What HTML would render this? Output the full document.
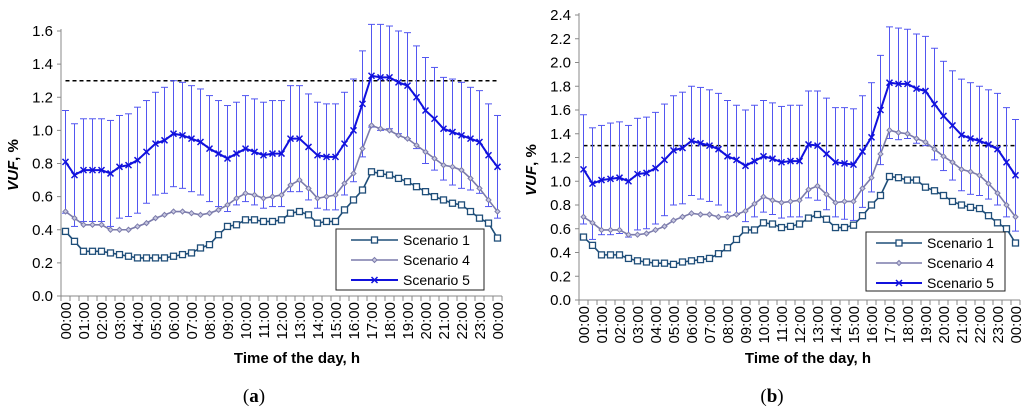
<!DOCTYPE html>
<html><head><meta charset="utf-8">
<style>
html,body{margin:0;padding:0;background:#fff;}
svg{display:block;font-family:"Liberation Sans",sans-serif;}
</style></head>
<body>
<svg id="svg" width="1024" height="412" viewBox="0 0 1024 412" xmlns="http://www.w3.org/2000/svg"></svg>
<script>
const hours = ["00:00","01:00","02:00","03:00","04:00","05:00","06:00","07:00","08:00","09:00","10:00","11:00","12:00","13:00","14:00","15:00","16:00","17:00","18:00","19:00","20:00","21:00","22:00","23:00","00:00"];
const seriesNames = ["Scenario 1","Scenario 4","Scenario 5"];
const limitValue = 1.3;
const yTicksA = ["0.0","0.2","0.4","0.6","0.8","1.0","1.2","1.4","1.6"];
const yTicksB = ["0.0","0.2","0.4","0.6","0.8","1.0","1.2","1.4","1.6","1.8","2.0","2.2","2.4"];
const a_s1 = [0.39,0.33,0.27,0.27,0.27,0.26,0.25,0.24,0.23,0.23,0.23,0.23,0.24,0.25,0.26,0.29,0.31,0.37,0.42,0.43,0.46,0.46,0.45,0.45,0.46,0.50,0.51,0.49,0.44,0.45,0.45,0.52,0.58,0.64,0.75,0.74,0.73,0.71,0.69,0.66,0.63,0.60,0.58,0.56,0.55,0.51,0.47,0.44,0.35];
const a_s4 = [0.51,0.47,0.43,0.43,0.43,0.40,0.40,0.40,0.42,0.44,0.47,0.49,0.51,0.51,0.50,0.49,0.50,0.52,0.55,0.59,0.62,0.61,0.59,0.60,0.61,0.67,0.70,0.65,0.59,0.60,0.61,0.68,0.74,0.89,1.03,1.01,1.00,0.97,0.95,0.91,0.87,0.83,0.79,0.78,0.76,0.71,0.65,0.58,0.51];
const a_s5 = [0.81,0.73,0.76,0.76,0.76,0.74,0.78,0.79,0.82,0.87,0.92,0.94,0.98,0.97,0.95,0.93,0.89,0.86,0.83,0.86,0.89,0.87,0.85,0.86,0.86,0.95,0.95,0.90,0.85,0.84,0.84,0.92,1.00,1.16,1.33,1.32,1.32,1.29,1.27,1.20,1.12,1.07,1.01,0.99,0.97,0.95,0.93,0.85,0.78];
const a_s5_upper = [1.12,1.04,1.07,1.07,1.07,1.06,1.09,1.10,1.14,1.18,1.23,1.26,1.30,1.29,1.27,1.25,1.21,1.18,1.15,1.17,1.21,1.19,1.17,1.18,1.18,1.27,1.27,1.22,1.17,1.16,1.16,1.23,1.31,1.48,1.64,1.64,1.63,1.60,1.59,1.51,1.44,1.38,1.32,1.31,1.29,1.26,1.24,1.16,1.09];
const b_s1 = [0.53,0.46,0.38,0.38,0.38,0.35,0.33,0.32,0.31,0.31,0.30,0.32,0.33,0.34,0.35,0.39,0.44,0.51,0.59,0.59,0.65,0.64,0.61,0.62,0.64,0.69,0.72,0.68,0.61,0.61,0.63,0.71,0.80,0.88,1.04,1.03,1.01,1.01,0.95,0.92,0.88,0.83,0.80,0.78,0.77,0.71,0.65,0.60,0.48];
const b_s4 = [0.70,0.65,0.59,0.59,0.59,0.55,0.55,0.56,0.59,0.62,0.67,0.70,0.73,0.72,0.72,0.70,0.70,0.72,0.75,0.81,0.87,0.84,0.82,0.83,0.84,0.93,0.96,0.89,0.82,0.83,0.83,0.94,1.03,1.23,1.43,1.41,1.40,1.36,1.33,1.27,1.21,1.16,1.10,1.08,1.05,0.98,0.90,0.80,0.70];
const b_s5 = [1.10,0.98,1.01,1.02,1.03,1.00,1.06,1.07,1.11,1.18,1.26,1.28,1.34,1.32,1.30,1.27,1.21,1.18,1.13,1.17,1.21,1.19,1.16,1.17,1.17,1.31,1.30,1.23,1.16,1.15,1.14,1.25,1.37,1.60,1.83,1.82,1.82,1.78,1.76,1.65,1.55,1.47,1.39,1.36,1.34,1.31,1.27,1.16,1.05];
const b_s5_upper = [1.56,1.45,1.47,1.49,1.50,1.47,1.53,1.54,1.58,1.65,1.72,1.75,1.80,1.79,1.77,1.74,1.68,1.64,1.60,1.64,1.68,1.66,1.63,1.64,1.64,1.76,1.76,1.70,1.62,1.62,1.61,1.72,1.83,2.06,2.30,2.29,2.28,2.24,2.22,2.12,2.01,1.93,1.86,1.83,1.80,1.77,1.74,1.62,1.52];

const NS="http://www.w3.org/2000/svg";
const svg=document.getElementById('svg');
function mk(tag,attrs,parent){const e=document.createElementNS(NS,tag);for(const k in attrs)e.setAttribute(k,attrs[k]);(parent||svg).appendChild(e);return e;}

function chart(cfg){
  const g=mk('g',{});
  
  
  const n=cfg.s1.length;
  const step=9;
  const x=i=>cfg.x0+step/2+i*step;
  const y=v=>cfg.y0-(v/cfg.ymax)*(cfg.y0-cfg.ytop);
  const xEnd=cfg.x0+n*step;
  const ya=mk('line',{x1:cfg.x0,y1:cfg.ytop-2,x2:cfg.x0,y2:cfg.y0,stroke:'#888','stroke-width':1},g);
  
  
  cfg.yTicks.forEach(t=>{
    const v=parseFloat(t);
    mk('line',{x1:cfg.x0-4,y1:y(v),x2:cfg.x0,y2:y(v),stroke:'#888'},g);
    const tx=mk('text',{x:cfg.x0-8,y:y(v)+5,'text-anchor':'end','font-size':15,fill:'#000'},g);
    tx.textContent=t;
    
    
  });
  const xa=mk('line',{x1:cfg.x0,y1:cfg.y0,x2:xEnd,y2:cfg.y0,stroke:'#888'},g);
  
  
  for(let i=0;i<=n;i++){mk('line',{x1:cfg.x0+i*step,y1:cfg.y0,x2:cfg.x0+i*step,y2:cfg.y0+5,stroke:'#888'},g);}
  hours.forEach((h,k)=>{
    const xx=x(k*2);
    const tx=mk('text',{x:0,y:0,'text-anchor':'end','font-size':15,fill:'#000',transform:`translate(${xx+5.5},${cfg.y0+6}) rotate(-90)`},g);
    tx.textContent=h;
    
    
  });
  const lim=mk('line',{x1:x(0),y1:y(limitValue),x2:x(n-1),y2:y(limitValue),stroke:'#000','stroke-width':1.5,'stroke-dasharray':'4,3'},g);
  
  
  const eg=mk('g',{stroke:'#5256f0','stroke-width':1},g);
  
  
  cfg.s5.forEach((v,i)=>{
    const e=cfg.up[i]-v;
    const hi=y(v+e), lo=y(v-e);
    mk('line',{x1:x(i),y1:hi,x2:x(i),y2:lo},eg);
    mk('line',{x1:x(i)-3.5,y1:hi,x2:x(i)+3.5,y2:hi},eg);
    mk('line',{x1:x(i)-3.5,y1:lo,x2:x(i)+3.5,y2:lo},eg);
  });
  const colors=['#1f4e79','#7b7bab','#1111dd'];
  const data=[cfg.s1,cfg.s4,cfg.s5];
  data.forEach((arr,si)=>{
    const pts=arr.map((v,i)=>x(i)+','+y(v)).join(' ');
    const pl=mk('polyline',{points:pts,fill:'none',stroke:colors[si],'stroke-width':si===2?2:1.6},g);
    
    
    arr.forEach((v,i)=>drawMarker(g,si,x(i),y(v),colors[si]));
  });
  const lg=mk('g',{},g);
  
  
  mk('rect',{x:cfg.lx,y:cfg.ly,width:cfg.lw,height:cfg.lh,fill:'#fff',stroke:'#222','stroke-width':1},lg);
  seriesNames.forEach((nm,si)=>{
    const yy=cfg.ly+11+si*20;
    mk('line',{x1:cfg.lx+cfg.l1,y1:yy,x2:cfg.lx+cfg.l2,y2:yy,stroke:colors[si],'stroke-width':si===2?2:1.6},lg);
    drawMarker(lg,si,(2*cfg.lx+cfg.l1+cfg.l2)/2,yy,colors[si]);
    const t=mk('text',{x:cfg.lx+cfg.l2+5,y:yy+5,'font-size':14,fill:'#000'},lg);
    t.textContent=nm;
    
    
  });
  const yt=mk('text',{x:0,y:0,'text-anchor':'middle','font-size':15,'font-weight':'bold',transform:`translate(${cfg.ytx},${cfg.yty}) rotate(-90)`},g);
  yt.innerHTML='<tspan font-style="italic">VUF</tspan>, %';
  
  
  const xt=mk('text',{x:cfg.xtx,y:363,'text-anchor':'middle','font-size':15,'font-weight':'bold'},g);
  xt.textContent='Time of the day, h';
  
  
  const cap=mk('text',{x:cfg.capx,y:402,'text-anchor':'middle','font-size':19,'font-family':'Liberation Serif, serif'},g);
  cap.innerHTML='(<tspan font-weight="bold">'+cfg.id+'</tspan>)';
  
  
}
function drawMarker(g,si,cx,cy,c){
  if(si===0){mk('rect',{x:cx-3,y:cy-3,width:6,height:6,fill:'#fff',stroke:c,'stroke-width':1.3},g);}
  else if(si===1){mk('path',{d:`M${cx} ${cy-2.5}L${cx+2.5} ${cy}L${cx} ${cy+2.5}L${cx-2.5} ${cy}Z`,fill:'#c8c8e0',stroke:c,'stroke-width':1},g);}
  else{mk('path',{d:`M${cx-3} ${cy-3}L${cx+3} ${cy+3}M${cx+3} ${cy-3}L${cx-3} ${cy+3}`,stroke:c,'stroke-width':1.5},g);}
}
chart({id:'a',x0:61,y0:296,ytop:31,ymax:1.6,yTicks:yTicksA,s1:a_s1,s4:a_s4,s5:a_s5,up:a_s5_upper,lx:336,ly:229,lw:148,lh:61,l1:15,l2:62,ytx:18,yty:165,xtx:297,capx:254});
chart({id:'b',x0:579,y0:300,ytop:15,ymax:2.4,yTicks:yTicksB,s1:b_s1,s4:b_s4,s5:b_s5,up:b_s5_upper,lx:866,ly:232,lw:139,lh:59,l1:10,l2:56,ytx:536,yty:170,xtx:808,capx:772});
</script>
</body></html>
